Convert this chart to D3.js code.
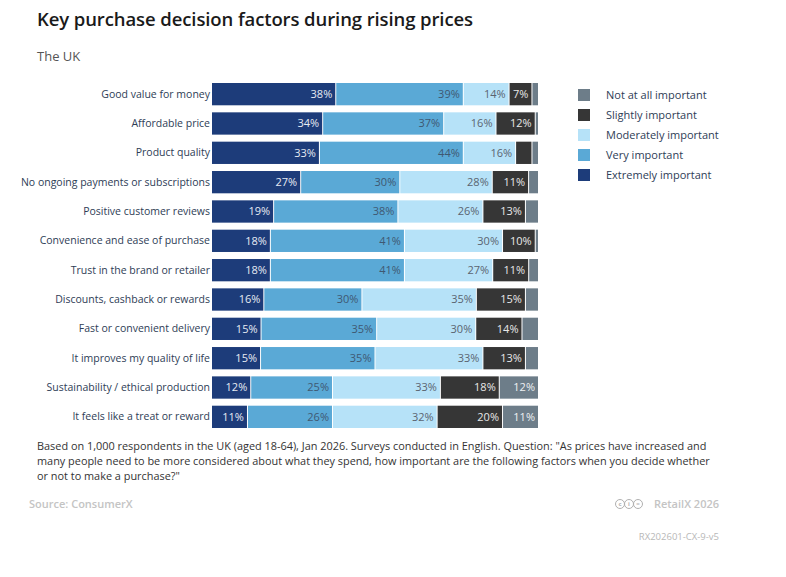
<!DOCTYPE html>
<html>
<head>
<meta charset="utf-8">
<script src="https://cdn.jsdelivr.net/npm/d3@7"></script>
<style>
  body { margin: 0; background: #fff; }
  svg { font-family: "Open Sans", sans-serif; }
</style>
</head>
<body>
<svg id="chart" width="786" height="577"></svg>
<script>
// data
var factors = [
  "Good value for money",
  "Affordable price",
  "Product quality",
  "No ongoing payments or subscriptions",
  "Positive customer reviews",
  "Convenience and ease of purchase",
  "Trust in the brand or retailer",
  "Discounts, cashback or rewards",
  "Fast or convenient delivery",
  "It improves my quality of life",
  "Sustainability / ethical production",
  "It feels like a treat or reward"
];
var levels = ["Extremely important", "Very important", "Moderately important", "Slightly important", "Not at all important"];
var extremely  = [38, 34, 33, 27, 19, 18, 18, 16, 15, 15, 12, 11];
var very       = [39, 37, 44, 30, 38, 41, 41, 30, 35, 35, 25, 26];
var moderately = [14, 16, 16, 28, 26, 30, 27, 35, 30, 33, 33, 32];
var slightly   = [7, 12, 5, 11, 13, 10, 11, 15, 14, 13, 18, 20];
var notAtAll   = [2, 1, 2, 3, 4, 1, 3, 4, 5, 4, 12, 11];
// labels hidden on the thin segments
var showLabel = [
  [true, true, true, true, false],
  [true, true, true, true, false],
  [true, true, true, false, false],
  [true, true, true, true, false],
  [true, true, true, true, false],
  [true, true, true, true, false],
  [true, true, true, true, false],
  [true, true, true, true, false],
  [true, true, true, true, false],
  [true, true, true, true, false],
  [true, true, true, true, true],
  [true, true, true, true, true]
];

var colors = ["#1d3c7a", "#5aa9d6", "#b6e2f8", "#363636", "#6d7d89"];
var textColors = ["#e6ebf3", "#3f5872", "#5a6470", "#e8e8e8", "#eef1f3"];

var rows = factors.map(function(f, i) {
  return {
    factor: f, idx: i,
    "Extremely important": extremely[i],
    "Very important": very[i],
    "Moderately important": moderately[i],
    "Slightly important": slightly[i],
    "Not at all important": notAtAll[i]
  };
});

var svg = d3.select("#chart");

var x = d3.scaleLinear().domain([0, 1]).range([212, 539]);
var y = d3.scaleBand().domain(factors).range([83, 428]).paddingInner(0.24).paddingOuter(0);
var color = d3.scaleOrdinal().domain(levels).range(colors);

var series = d3.stack().keys(levels).offset(d3.stackOffsetExpand)(rows);

// title
svg.append("text").attr("x", 37).attr("y", 26)
  .attr("font-size", 18.5).attr("font-weight", 600).attr("fill", "#1a1a1a")
  .attr("letter-spacing", -0.1)
  .text("Key purchase decision factors during rising prices");
svg.append("text").attr("x", 37).attr("y", 61)
  .attr("font-size", 13).attr("fill", "#555")
  .text("The UK");

var groups = svg.append("g").selectAll("g").data(series).join("g")
  .attr("fill", function(d) { return color(d.key); });

groups.selectAll("rect").data(function(d) { return d; }).join("rect")
  .attr("x", function(d) { return x(d[0]); })
  .attr("y", function(d) { return y(d.data.factor); })
  .attr("width", function(d) { return Math.max(0, x(d[1]) - x(d[0]) - 1); })
  .attr("height", y.bandwidth());

// value labels
series.forEach(function(s, k) {
  svg.append("g").selectAll("text")
    .data(s.filter(function(d) { return showLabel[d.data.idx][k]; }))
    .join("text")
    .attr("x", function(d) { return x(d[1]) - 4; })
    .attr("y", function(d) { return y(d.data.factor) + y.bandwidth() / 2; })
    .attr("dy", "0.35em")
    .attr("text-anchor", "end")
    .attr("font-size", 11)
    .attr("fill", textColors[k])
    .text(function(d) { return d.data[s.key] + "%"; });
});

// category axis
var yAxis = svg.append("g").attr("transform", "translate(210,0)")
  .call(d3.axisLeft(y).tickSize(0).tickPadding(0));
yAxis.select(".domain").remove();
yAxis.selectAll("text").attr("font-size", 10.5).attr("fill", "#2e3d56")
  .attr("font-family", "Open Sans, sans-serif");

// legend
var legendOrder = levels.slice().reverse();
var legend = svg.append("g").selectAll("g").data(legendOrder).join("g")
  .attr("transform", function(d, i) { return "translate(578," + (89 + i * 20) + ")"; });
legend.append("rect").attr("width", 12).attr("height", 12)
  .attr("fill", function(d) { return color(d); });
legend.append("text").attr("x", 28).attr("y", 6).attr("dy", "0.35em")
  .attr("font-size", 11).attr("fill", "#2e3d56")
  .text(function(d) { return d; });

// footnote
var note = [
  "Based on 1,000 respondents in the UK (aged 18-64), Jan 2026. Surveys conducted in English. Question: \"As prices have increased and",
  "many people need to be more considered about what they spend, how important are the following factors when you decide whether",
  "or not to make a purchase?\""
];
svg.append("g").selectAll("text").data(note).join("text")
  .attr("x", 37).attr("y", function(d, i) { return 450 + i * 15; })
  .attr("font-size", 10.9).attr("fill", "#333")
  .text(function(d) { return d; });

svg.append("text").attr("x", 29).attr("y", 508)
  .attr("font-size", 11).attr("font-weight", 600).attr("fill", "#c4c4c4")
  .text("Source: ConsumerX");

svg.append("text").attr("x", 719).attr("y", 508).attr("text-anchor", "end")
  .attr("font-size", 11).attr("font-weight", 600).attr("fill", "#c4c4c4")
  .text("RetailX 2026");
var cc = svg.append("g").selectAll("g").data(["c", "i", "=" ]).join("g")
  .attr("transform", function(d, i) { return "translate(620," + 504 + ") translate(" + (i * 9) + ",0)"; });
cc.append("circle").attr("r", 4.5).attr("fill", "none").attr("stroke", "#b0b0b0").attr("stroke-width", 1);
cc.append("text").attr("text-anchor", "middle").attr("dy", "0.33em")
  .attr("font-size", 6).attr("font-weight", 700).attr("fill", "#b0b0b0")
  .text(function(d) { return d; });

svg.append("text").attr("x", 719).attr("y", 540).attr("text-anchor", "end")
  .attr("font-size", 9.5).attr("fill", "#b8b8b8")
  .text("RX202601-CX-9-v5");
</script>
</body>
</html>
